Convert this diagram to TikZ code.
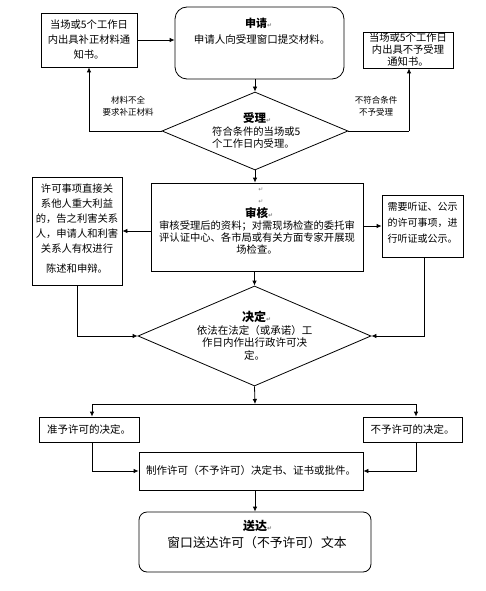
\documentclass[tikz,border=0pt]{standalone}
\usepackage{fontspec}
\setmainfont{Noto Sans CJK SC}
\newfontfamily\symfont{DejaVu Sans}
\usetikzlibrary{shapes.geometric,arrows.meta}
\newcommand{\fs}[2]{\fontsize{#1}{#2}\selectfont}
\newcommand{\parmark}{{\symfont\fontsize{6}{6}\selectfont\textcolor{gray}{↵}}}
\begin{document}
\begin{tikzpicture}[x=1pt,y=-1pt,
  box/.style={draw, line width=0.8pt, inner sep=0pt, align=center},
  arr/.style={draw, line width=0.8pt, -{Latex[length=5pt,width=4.5pt]}},
  ln/.style={draw, line width=0.8pt},
  txt/.style={inner sep=0pt, align=center},
  dia/.style={draw, diamond, line width=0.8pt, inner sep=0pt},
  ttl/.style={inner sep=0pt, anchor=west, font=\fs{11.5}{12}\bfseries},
]
\useasboundingbox (0,0) rectangle (486,591);

% top row
\node[box, minimum width=96, minimum height=54, font=\fs{10.3}{15}] (nb) at (89,40)
  {当场或5个工作日\\内出具补正材料通\\知书。};
\node[box, rounded corners=12, minimum width=169, minimum height=72] (sq) at (259.5,43) {};
\node[ttl, font=\fs{11}{12}\bfseries] (sqt) at (245,23) {申请\parmark};
\node[txt, font=\fs{10.5}{12}] (sqb) at (262,39) {申请人向受理窗口提交材料。};
\node[box, minimum width=90, minimum height=36, font=\fs{10.3}{12}] (nr) at (408,50)
  {当场或5个工作日\\内出具不予受理\\通知书。};

% accept diamond
\node[dia, minimum width=186, minimum height=78] (sl) at (255,131) {};
\node[ttl] (slt) at (243,118) {受理\parmark};
\node[txt, align=left, anchor=north west, font=\fs{10.3}{11.5}] (slb) at (212,126.8)
  {符合条件的当场或5\\个工作日内受理。};
\node[txt, font=\fs{8.5}{12}] (lbl1) at (128,106) {材料不全\\要求补正材料};
\node[txt, font=\fs{8.5}{12}] (lbl2) at (376,106) {不符合条件\\不予受理};

% review row
\node[box, minimum width=212, minimum height=88] (sh) at (257,227) {};
\node[txt] (pm1) at (261,190) {\parmark};
\node[txt] (pm2) at (261,202) {\parmark};
\node[ttl] (sht) at (245,213) {审核\parmark};
\node[txt, font=\fs{10.3}{12}] (shb) at (257,238)
  {审核受理后的资料；对需现场检查的委托审\\评认证中心、各市局或有关方面专家开展现\\场检查。};
\node[box, minimum width=90, minimum height=108] (lb) at (77,231) {};
\node[txt, font=\fs{10.3}{15}] (lbb) at (77,229)
  {许可事项直接关\\系他人重大利益\\的，告之利害关系\\人，申请人和利害\\关系人有权进行\\[5pt]陈述和申辩。};
\node[box, minimum width=81, minimum height=62] (rb) at (422.5,226) {};
\node[txt, font=\fs{10}{16}] (rbb) at (422.5,223)
  {需要听证、公示\\的许可事项，进\\行听证或公示。};

% decision diamond
\node[dia, minimum width=233, minimum height=100] (jd) at (254.5,336) {};
\node[ttl, font=\fs{12}{12}\bfseries] (jdt) at (242,317) {决定\parmark};
\node[txt, font=\fs{10.5}{12.5}] (jdb) at (254.5,342.7)
  {依法在法定（或承诺）工\\作日内作出行政许可决\\定。};

% bottom
\coordinate (sp) at (255,404);
\node[box, minimum width=100, minimum height=25, font=\fs{10.5}{12}] (ok) at (89,429.5) {准予许可的决定。};
\node[box, minimum width=99, minimum height=25, font=\fs{10.5}{12}] (no) at (412.5,429.5) {不予许可的决定。};
\node[box, minimum width=224, minimum height=38, font=\fs{10.5}{12}] (mk) at (251,471) {制作许可（不予许可）决定书、证书或批件。};
\node[box, rounded corners=8, minimum width=232, minimum height=60] (sd) at (255,542) {};
\node[ttl, font=\fs{12}{12}\bfseries] (sdt) at (243,526) {送达\parmark};
\node[txt, font=\fs{12.8}{14}] (sdb) at (257,543) {窗口送达许可（不予许可）文本};

% connectors
\draw[arr] (nb.east) -- (nb.east -| sq.west);
\draw[arr] (sl.north |- sq.south) -- (sl.north);
\draw[arr] (sl.west) -| (nb.south);
\draw[arr] ([xshift=1pt]nr.south |- sl.east) -| ([xshift=1pt]nr.south);
\draw[ln] (sl.east) -- ([xshift=1pt]nr.south |- sl.east);
\draw[arr] (sl.south) -- (sl.south |- sh.north);
\draw[arr] (sh.west |- lb.east) -- (lb.east);
\draw[arr] (sh.east |- rb.west) -- (rb.west);
\draw[arr] (jd.north |- sh.south) -- (jd.north);
\draw[arr] (lb.south) |- (jd.west);
\draw[arr] ([xshift=1.5pt]rb.south) |- (jd.east);
\draw[arr] (jd.south) -- (sp);
\draw[arr] (sp) -| ([xshift=3pt]ok.north);
\draw[arr] (sp) -| ([xshift=3.5pt]no.north);
\draw[arr] ([xshift=3pt]ok.south) |- (mk.west);
\draw[arr] ([xshift=3.5pt]no.south) |- (mk.east);
\draw[arr] (sd.north |- mk.south) -- (sd.north);
\end{tikzpicture}
\end{document}
